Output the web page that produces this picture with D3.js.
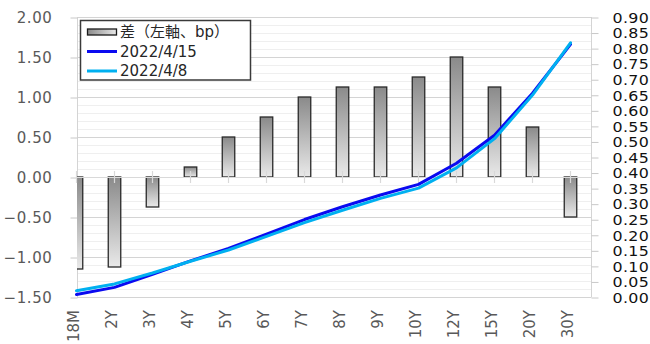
<!DOCTYPE html>
<html>
<head>
<meta charset="utf-8">
<script src="https://cdn.jsdelivr.net/npm/d3@7/dist/d3.min.js"></script>
<style>
  html, body { margin: 0; padding: 0; background: #fff; }
  svg { display: block; }
  text { font-family: "DejaVu Sans", "Noto Sans CJK JP", sans-serif; }
</style>
</head>
<body>
<svg id="chart" width="650" height="344"></svg>
<script>
// Tenors along the curve
const categories = ["18M", "2Y", "3Y", "4Y", "5Y", "6Y", "7Y", "8Y", "9Y", "10Y", "12Y", "15Y", "20Y", "30Y"];
// Week-on-week change, bp (left axis)
const diffBp = [-1.15, -1.125, -0.375, 0.125, 0.5, 0.75, 1.0, 1.125, 1.125, 1.25, 1.5, 1.125, 0.625, -0.5];
// Yield curves, % (right axis)
const curve0415 = [0.008, 0.031, 0.073, 0.116, 0.156, 0.202, 0.249, 0.290, 0.328, 0.362, 0.430, 0.520, 0.655, 0.812];
const curve0408 = [0.020, 0.042, 0.077, 0.115, 0.151, 0.195, 0.239, 0.279, 0.317, 0.350, 0.415, 0.509, 0.649, 0.817];
const seriesNames = ["差（左軸、bp）", "2022/4/15", "2022/4/8"];
const leftTicks = [-1.5, -1.0, -0.5, 0.0, 0.5, 1.0, 1.5, 2.0];
const rightTicks = [0.00, 0.05, 0.10, 0.15, 0.20, 0.25, 0.30, 0.35, 0.40, 0.45, 0.50, 0.55, 0.60, 0.65, 0.70, 0.75, 0.80, 0.85, 0.90];

const svg = d3.select("#chart");
const plot = { left: 77, right: 591, top: 17, bottom: 297 };

const x = d3.scalePoint().domain(categories).range([76.5, 570.5]);
const yL = d3.scaleLinear().domain([-1.5, 2.0]).range([plot.bottom, plot.top]);
const yR = d3.scaleLinear().domain([0, 0.9]).range([plot.bottom, plot.top]);

const defs = svg.append("defs");
const grad = defs.append("linearGradient").attr("id", "barGrad")
  .attr("x1", 0).attr("y1", 0).attr("x2", 0).attr("y2", 1);
grad.append("stop").attr("offset", "0%").attr("stop-color", "#8a8a8a");
grad.append("stop").attr("offset", "100%").attr("stop-color", "#e9e9e9");
const gradH = defs.append("linearGradient").attr("id", "legGrad")
  .attr("x1", 0).attr("y1", 0).attr("x2", 1).attr("y2", 0);
gradH.append("stop").attr("offset", "0%").attr("stop-color", "#8a8a8a");
gradH.append("stop").attr("offset", "100%").attr("stop-color", "#e9e9e9");
defs.append("clipPath").attr("id", "plotClip").append("rect")
  .attr("x", plot.left).attr("y", plot.top - 2)
  .attr("width", plot.right - plot.left).attr("height", plot.bottom - plot.top + 4);

// Minor gridlines every 0.1 on the left scale
const minor = d3.range(-15, 21).map(i => i / 10).filter(v => Math.abs(v * 2 - Math.round(v * 2)) > 1e-6);
svg.append("g").selectAll("line").data(minor).join("line")
  .attr("x1", plot.left).attr("x2", plot.right)
  .attr("y1", d => yL(d) + 0.5).attr("y2", d => yL(d) + 0.5)
  .attr("stroke", "#efefef").attr("stroke-width", 1);

// Major gridlines
svg.append("g").selectAll("line").data(leftTicks).join("line")
  .attr("x1", plot.left).attr("x2", plot.right)
  .attr("y1", d => yL(d) + 0.5).attr("y2", d => yL(d) + 0.5)
  .attr("stroke", "#d4d4d4").attr("stroke-width", 1);

// Vertical axis lines
svg.append("line").attr("x1", plot.left + 0.5).attr("x2", plot.left + 0.5)
  .attr("y1", plot.top).attr("y2", plot.bottom + 0.5).attr("stroke", "#d4d4d4");
svg.append("line").attr("x1", plot.right + 0.5).attr("x2", plot.right + 0.5)
  .attr("y1", plot.top).attr("y2", plot.bottom + 0.5).attr("stroke", "#d4d4d4");

// Left axis
const axL = svg.append("g").attr("transform", `translate(${plot.left + 0.5},0.5)`)
  .call(d3.axisLeft(yL).tickValues(leftTicks).tickFormat(d3.format(".2f")).tickSize(7).tickPadding(18));
axL.select(".domain").remove();
axL.selectAll(".tick line").attr("stroke", "#c8c8c8");
axL.selectAll(".tick text").attr("fill", "#595959").style("font-size", "15px")
  .style("letter-spacing", "0.6px").attr("dy", "0.36em");

// Right axis: dense labels, so a slightly smaller face stretched sideways
const axR = svg.append("g").attr("transform", `translate(${plot.right + 0.5},0.5)`)
  .call(d3.axisRight(yR).tickValues(rightTicks).tickFormat(d3.format(".2f")).tickSize(7).tickPadding(0));
axR.select(".domain").remove();
axR.selectAll(".tick line").attr("stroke", "#c8c8c8");
axR.selectAll(".tick text")
  .attr("x", null)
  .attr("transform", "translate(21,0) scale(1.2,1)")
  .attr("fill", "#111").style("font-size", "13.2px")
  .style("letter-spacing", "0.3px").attr("dy", "0.36em");

// Difference bars
const barW = 12.5;
svg.append("g").attr("clip-path", "url(#plotClip)")
  .selectAll("rect").data(categories).join("rect")
  .attr("x", d => x(d) - barW / 2)
  .attr("y", (d, i) => Math.min(yL(0), yL(diffBp[i])))
  .attr("width", barW)
  .attr("height", (d, i) => Math.abs(yL(diffBp[i]) - yL(0)))
  .attr("fill", "url(#barGrad)")
  .attr("stroke", "#2a2a2a").attr("stroke-width", 1.3);

// Category axis at zero with crossing tick marks
svg.append("line").attr("x1", plot.left).attr("x2", plot.right)
  .attr("y1", yL(0) + 0.5).attr("y2", yL(0) + 0.5).attr("stroke", "#d9d9d9").attr("stroke-width", 1.2);
svg.append("g").selectAll("line").data(categories).join("line")
  .attr("x1", d => x(d)).attr("x2", d => x(d))
  .attr("y1", yL(0) - 6).attr("y2", yL(0) + 6)
  .attr("stroke", "#d9d9d9").attr("stroke-width", 1.2);

// Category labels
svg.append("g").selectAll("text").data(categories).join("text")
  .attr("transform", d => `translate(${x(d) - 3},310) rotate(-90)`)
  .attr("text-anchor", "end").attr("dy", "0.36em")
  .attr("fill", "#595959").style("font-size", "15px")
  .text(d => d);

// Yield curves
const line = d3.line().x((d, i) => x(categories[i])).y(d => yR(d));
svg.append("path").datum(curve0415).attr("d", line)
  .attr("fill", "none").attr("stroke", "#0a0af0").attr("stroke-width", 3)
  .attr("stroke-linejoin", "round").attr("stroke-linecap", "round");
svg.append("path").datum(curve0408).attr("d", line)
  .attr("fill", "none").attr("stroke", "#00b0f0").attr("stroke-width", 3)
  .attr("stroke-linejoin", "round").attr("stroke-linecap", "round");

// Legend
const lg = svg.append("g");
lg.append("rect").attr("x", 80.5).attr("y", 20.5).attr("width", 170).attr("height", 59.5)
  .attr("fill", "#fff").attr("stroke", "#3a3a3a").attr("stroke-width", 1.5);
const rowsY = [32, 51.5, 71];
lg.append("rect").attr("x", 87.5).attr("y", rowsY[0] - 3).attr("width", 29).attr("height", 6)
  .attr("fill", "url(#legGrad)").attr("stroke", "#1a1a1a").attr("stroke-width", 1.3);
lg.append("line").attr("x1", 87).attr("x2", 117).attr("y1", rowsY[1]).attr("y2", rowsY[1])
  .attr("stroke", "#0a0af0").attr("stroke-width", 3);
lg.append("line").attr("x1", 87).attr("x2", 117).attr("y1", rowsY[2]).attr("y2", rowsY[2])
  .attr("stroke", "#00b0f0").attr("stroke-width", 3);

// Split a label into runs so full-width characters use the CJK face
function runs(s) {
  const out = [];
  for (const ch of s) {
    const cjk = ch.codePointAt(0) > 0x2000;
    if (out.length && out[out.length - 1].cjk === cjk) out[out.length - 1].t += ch;
    else out.push({ t: ch, cjk });
  }
  return out;
}
lg.selectAll("text.lt").data(seriesNames).join("text").attr("class", "lt")
  .attr("x", 120).attr("y", (d, i) => rowsY[i]).attr("dy", "0.36em")
  .attr("fill", "#262626").style("font-size", "15px")
  .each(function (d) {
    d3.select(this).selectAll("tspan").data(runs(d)).join("tspan")
      .style("font-family", r => r.cjk ? "'Noto Sans CJK JP', sans-serif" : "'DejaVu Sans', sans-serif")
      .text(r => r.t);
  });
</script>
</body>
</html>
